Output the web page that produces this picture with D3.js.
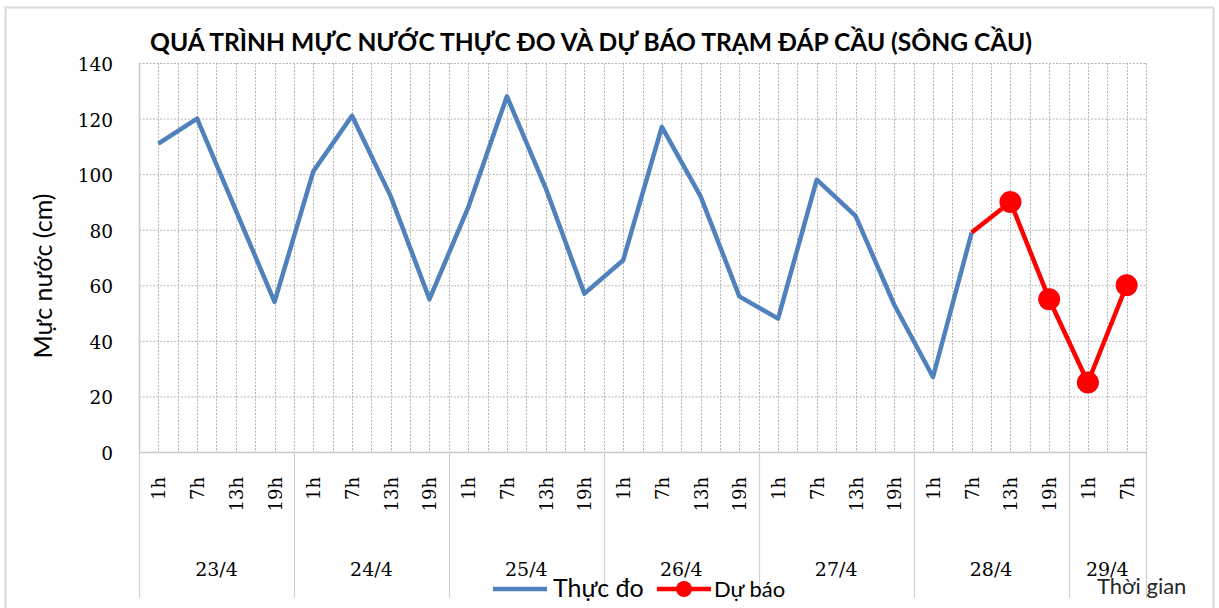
<!DOCTYPE html>
<html>
<head>
<meta charset="utf-8">
<script src="https://cdn.jsdelivr.net/npm/d3@7"></script>
<style>
  body { margin: 0; background: #fff; }
  svg { display: block; }
</style>
</head>
<body>
<div id="chart"></div>
<script>
// data
const days = ["23/4", "24/4", "25/4", "26/4", "27/4", "28/4", "29/4"];
const hoursPerDay = [4, 4, 4, 4, 4, 4, 2];
const hours = ["1h", "7h", "13h", "19h"];
const measured = [111, 120, 87, 54, 101, 121, 92, 55, 88, 128, 95, 57, 69, 117, 92, 56, 48, 98, 85, 53, 27, 79, null, null, null, null];
const forecast = [null, null, null, null, null, null, null, null, null, null, null, null, null, null, null, null, null, null, null, null, null, 79, 90, 55, 25, 60];
const yTicks = [0, 20, 40, 60, 80, 100, 120, 140];

// build category list (one per hour)
let arrCat = [];
days.forEach((d, i) => {
  for (let k = 0; k < hoursPerDay[i]; k++) arrCat.push({ day: d, hour: hours[k], dayIdx: i });
});

let intTotalWid = 1219;
let intTotalHgt = 608;
let objPlot = { left: 139, top: 63, right: 1146, bottom: 452 };

let svg = d3.select("#chart")
  .append("svg")
  .attr("width", intTotalWid)
  .attr("height", intTotalHgt);

// outer chart border
svg.append("rect")
  .attr("x", 5.5).attr("y", 7.5)
  .attr("width", 1208).attr("height", 612)
  .attr("fill", "#fff")
  .attr("stroke", "#d9d9d9")
  .attr("stroke-width", 2);

// scales
let fnX = d3.scaleBand()
  .domain(d3.range(arrCat.length))
  .range([objPlot.left, objPlot.right])
  .padding(0);
let bw = fnX.bandwidth();
let fnY = d3.scaleLinear()
  .domain([0, 140])
  .range([objPlot.bottom, objPlot.top]);

const grid = "#b4b4b4";

// horizontal grid
svg.append("g").selectAll("line")
  .data(yTicks.filter(v => v > 0))
  .enter().append("line")
  .attr("x1", objPlot.left).attr("x2", objPlot.right)
  .attr("y1", d => fnY(d) + 0.5).attr("y2", d => fnY(d) + 0.5)
  .attr("stroke", grid).attr("stroke-dasharray", "2,1.5");

// vertical grid (category centres and edges)
let arrVx = [];
arrCat.forEach((c, i) => {
  arrVx.push(fnX(i) + bw / 2);
  arrVx.push(fnX(i) + bw);
});
svg.append("g").selectAll("line")
  .data(arrVx)
  .enter().append("line")
  .attr("x1", d => Math.round(d) + 0.5).attr("x2", d => Math.round(d) + 0.5)
  .attr("y1", objPlot.top).attr("y2", objPlot.bottom)
  .attr("stroke", grid).attr("stroke-dasharray", "2,1.5");

// axes lines
svg.append("line")
  .attr("x1", objPlot.left + 0.5).attr("x2", objPlot.left + 0.5)
  .attr("y1", objPlot.top).attr("y2", objPlot.bottom)
  .attr("stroke", "#c8c8c8").attr("stroke-width", 1.5);
svg.append("line")
  .attr("x1", objPlot.left).attr("x2", objPlot.right)
  .attr("y1", objPlot.bottom + 0.5).attr("y2", objPlot.bottom + 0.5)
  .attr("stroke", "#c8c8c8").attr("stroke-width", 1.5);

// day group separators below the axis
let arrSep = [0];
let acc = 0;
hoursPerDay.forEach(n => { acc += n; arrSep.push(acc); });
svg.append("g").selectAll("line")
  .data(arrSep)
  .enter().append("line")
  .attr("x1", d => Math.round(objPlot.left + d * bw) + 0.5)
  .attr("x2", d => Math.round(objPlot.left + d * bw) + 0.5)
  .attr("y1", objPlot.bottom).attr("y2", 598)
  .attr("stroke", "#d0d0d0").attr("stroke-width", 1.2);

// y tick labels
svg.append("g").selectAll("text")
  .data(yTicks)
  .enter().append("text")
  .attr("x", 113)
  .attr("y", d => fnY(d) + 8)
  .attr("text-anchor", "end")
  .attr("font-family", "DejaVu Serif")
  .attr("font-size", 18.5)
  .attr("fill", "#000")
  .text(d => d);

// y axis title
svg.append("text")
  .attr("transform", "translate(52, 276) rotate(-90)")
  .attr("text-anchor", "middle")
  .attr("font-family", "Lato")
  .attr("font-size", 25)
  .attr("fill", "#000")
  .text("Mực nước (cm)");

// hour labels (rotated)
svg.append("g").selectAll("text")
  .data(arrCat)
  .enter().append("text")
  .attr("transform", (d, i) => `translate(${fnX(i) + bw / 2 + 7}, 477) rotate(-90)`)
  .attr("text-anchor", "end")
  .attr("font-family", "DejaVu Serif")
  .attr("font-size", 18)
  .attr("fill", "#000")
  .text(d => d.hour);

// day labels
svg.append("g").selectAll("text")
  .data(days)
  .enter().append("text")
  .attr("x", (d, i) => objPlot.left + (arrSep[i] + arrSep[i + 1]) / 2 * bw)
  .attr("y", 576)
  .attr("text-anchor", "middle")
  .attr("font-family", "DejaVu Serif")
  .attr("font-size", 19)
  .attr("fill", "#000")
  .text(d => d);

// lines
let fnLine = d3.line()
  .defined(d => d != null)
  .x((d, i) => fnX(i) + bw / 2)
  .y(d => fnY(d));

svg.append("path")
  .attr("d", fnLine(measured))
  .attr("fill", "none")
  .attr("stroke", "#4f81bd")
  .attr("stroke-width", 4.5)
  .attr("stroke-linejoin", "round");

svg.append("path")
  .attr("d", fnLine(forecast))
  .attr("fill", "none")
  .attr("stroke", "#ff0000")
  .attr("stroke-width", 4.5)
  .attr("stroke-linejoin", "round");

// forecast markers (only where no measured value)
svg.append("g").selectAll("circle")
  .data(forecast.map((v, i) => ({ v, i })).filter(o => o.v != null && measured[o.i] == null))
  .enter().append("circle")
  .attr("cx", o => fnX(o.i) + bw / 2)
  .attr("cy", o => fnY(o.v))
  .attr("r", 11)
  .attr("fill", "#ff0000");

// title
svg.append("text")
  .attr("x", 591)
  .attr("y", 51)
  .attr("text-anchor", "middle")
  .attr("font-family", "Lato")
  .attr("font-weight", "bold")
  .attr("font-size", 24.6)
  .attr("fill", "#000")
  .text("QUÁ TRÌNH MỰC NƯỚC THỰC ĐO VÀ DỰ BÁO TRẠM ĐÁP CẦU (SÔNG CẦU)");

// legend
let gLeg = svg.append("g");
gLeg.append("line")
  .attr("x1", 493).attr("x2", 547).attr("y1", 589).attr("y2", 589)
  .attr("stroke", "#4f81bd").attr("stroke-width", 4.5);
gLeg.append("text")
  .attr("x", 553).attr("y", 597)
  .attr("font-family", "Lato").attr("font-size", 25)
  .attr("fill", "#000")
  .text("Thực đo");
gLeg.append("line")
  .attr("x1", 657).attr("x2", 711).attr("y1", 589).attr("y2", 589)
  .attr("stroke", "#ff0000").attr("stroke-width", 4.5);
gLeg.append("circle")
  .attr("cx", 684).attr("cy", 589).attr("r", 8)
  .attr("fill", "#ff0000");
gLeg.append("text")
  .attr("x", 714).attr("y", 597)
  .attr("font-family", "Lato").attr("font-size", 22)
  .attr("fill", "#000")
  .text("Dự báo");

// x axis title
svg.append("text")
  .attr("x", 1097).attr("y", 594)
  .attr("font-family", "Lato").attr("font-size", 22)
  .attr("fill", "#262626")
  .text("Thời gian");
</script>
</body>
</html>
